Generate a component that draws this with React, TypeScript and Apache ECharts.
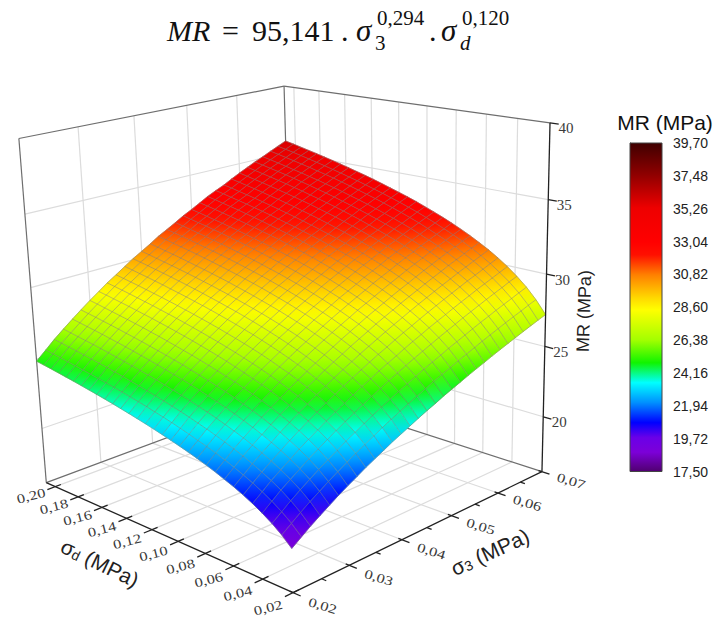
import React, { useEffect, useRef } from "react";
import * as echarts from "echarts";

// σd grid (rows), σ3 grid (columns) and the MR surface read at each node
const sigmaD = [0.0200,0.0263,0.0325,0.0388,0.0451,0.0513,0.0576,0.0639,0.0701,0.0764,0.0827,0.0889,0.0952,0.1015,0.1077,0.1140,0.1203,0.1265,0.1328,0.1391,0.1453,0.1516,0.1579,0.1641,0.1704,0.1767,0.1829,0.1892,0.1955,0.2017,0.2080];
const sigma3 = [0.0200,0.0217,0.0233,0.0250,0.0267,0.0283,0.0300,0.0317,0.0333,0.0350,0.0367,0.0383,0.0400,0.0417,0.0433,0.0450,0.0467,0.0483,0.0500,0.0517,0.0533,0.0550,0.0567,0.0583,0.0600,0.0617,0.0633,0.0650,0.0667,0.0683,0.0700];
const mrValues = [
[18.84,19.29,19.71,20.11,20.50,20.87,21.22,21.56,21.89,22.20,22.51,22.81,23.09,23.37,23.64,23.91,24.16,24.42,24.66,24.90,25.13,25.36,25.58,25.80,26.02,26.23,26.43,26.64,26.84,27.03,27.22],
[19.44,19.90,20.34,20.76,21.15,21.53,21.90,22.25,22.59,22.91,23.23,23.54,23.83,24.12,24.40,24.67,24.94,25.20,25.45,25.69,25.93,26.17,26.40,26.63,26.85,27.07,27.28,27.49,27.69,27.90,28.09],
[19.93,20.40,20.85,21.28,21.69,22.08,22.45,22.81,23.16,23.49,23.82,24.13,24.43,24.73,25.01,25.29,25.57,25.83,26.09,26.34,26.59,26.83,27.07,27.30,27.53,27.75,27.97,28.18,28.39,28.60,28.80],
[20.34,20.83,21.29,21.72,22.14,22.54,22.92,23.29,23.64,23.98,24.31,24.63,24.94,25.24,25.54,25.82,26.10,26.37,26.63,26.89,27.14,27.39,27.63,27.87,28.10,28.33,28.55,28.77,28.98,29.20,29.40],
[20.71,21.20,21.67,22.11,22.53,22.94,23.33,23.70,24.06,24.41,24.74,25.07,25.39,25.69,25.99,26.28,26.56,26.84,27.11,27.37,27.63,27.88,28.12,28.36,28.60,28.83,29.06,29.28,29.50,29.71,29.93],
[21.03,21.53,22.00,22.45,22.88,23.29,23.69,24.07,24.43,24.79,25.13,25.46,25.78,26.09,26.39,26.69,26.97,27.25,27.53,27.79,28.05,28.31,28.56,28.80,29.04,29.28,29.51,29.73,29.96,30.17,30.39],
[21.32,21.82,22.30,22.76,23.19,23.61,24.01,24.40,24.76,25.13,25.47,25.81,26.13,26.45,26.75,27.05,27.34,27.62,27.90,28.17,28.43,28.70,28.95,29.19,29.44,29.68,29.91,30.14,30.37,30.58,30.81],
[21.57,22.09,22.58,23.04,23.48,23.90,24.31,24.70,25.07,25.43,25.78,26.12,26.45,26.77,27.08,27.38,27.68,27.97,28.25,28.52,28.79,29.05,29.30,29.55,29.80,30.04,30.28,30.51,30.74,30.96,31.18],
[21.82,22.34,22.83,23.30,23.74,24.17,24.58,24.97,25.35,25.72,26.07,26.41,26.75,27.07,27.38,27.69,27.99,28.28,28.56,28.84,29.11,29.37,29.63,29.88,30.13,30.38,30.62,30.85,31.08,31.31,31.53],
[22.04,22.57,23.06,23.53,23.98,24.41,24.83,25.23,25.61,25.98,26.34,26.68,27.02,27.35,27.66,27.97,28.27,28.57,28.85,29.13,29.40,29.67,29.93,30.19,30.44,30.69,30.93,31.17,31.40,31.63,31.85],
[22.25,22.78,23.28,23.75,24.21,24.64,25.06,25.46,25.85,26.22,26.59,26.93,27.27,27.60,27.92,28.24,28.54,28.83,29.12,29.40,29.68,29.95,30.21,30.47,30.73,30.97,31.22,31.46,31.69,31.92,32.15],
[22.44,22.97,23.48,23.96,24.42,24.86,25.28,25.68,26.08,26.45,26.82,27.17,27.51,27.84,28.17,28.48,28.79,29.09,29.37,29.66,29.94,30.21,30.47,30.74,31.00,31.24,31.49,31.73,31.97,32.20,32.43],
[22.62,23.16,23.67,24.16,24.62,25.06,25.49,25.89,26.29,26.67,27.04,27.39,27.73,28.07,28.40,28.71,29.02,29.33,29.61,29.90,30.18,30.46,30.72,30.99,31.25,31.49,31.75,31.99,32.23,32.46,32.69],
[22.79,23.34,23.85,24.34,24.81,25.25,25.68,26.09,26.49,26.87,27.25,27.60,27.94,28.28,28.62,28.93,29.24,29.55,29.84,30.13,30.41,30.69,30.95,31.23,31.49,31.73,31.99,32.23,32.48,32.71,32.94],
[22.95,23.51,24.02,24.51,24.99,25.43,25.86,26.28,26.68,27.06,27.45,27.80,28.14,28.48,28.83,29.14,29.45,29.76,30.05,30.35,30.63,30.91,31.17,31.45,31.72,31.96,32.22,32.46,32.71,32.94,33.18],
[23.11,23.67,24.18,24.68,25.16,25.60,26.03,26.46,26.86,27.24,27.63,27.99,28.33,28.67,29.02,29.34,29.65,29.96,30.25,30.56,30.84,31.12,31.38,31.66,31.93,32.18,32.44,32.68,32.93,33.16,33.40],
[23.26,23.82,24.34,24.84,25.32,25.76,26.20,26.63,27.03,27.41,27.81,28.17,28.51,28.85,29.21,29.53,29.84,30.15,30.44,30.76,31.04,31.32,31.58,31.86,32.13,32.39,32.65,32.89,33.14,33.37,33.61],
[23.40,23.97,24.49,24.99,25.47,25.92,26.36,26.79,27.19,27.58,27.98,28.34,28.68,29.03,29.39,29.71,30.02,30.33,30.63,30.95,31.23,31.51,31.77,32.05,32.33,32.59,32.85,33.09,33.34,33.57,33.81],
[23.54,24.11,24.63,25.14,25.62,26.07,26.51,26.95,27.35,27.74,28.14,28.50,28.85,29.20,29.56,29.88,30.19,30.51,30.81,31.13,31.41,31.69,31.95,32.24,32.52,32.78,33.04,33.28,33.53,33.76,34.01],
[23.67,24.24,24.77,25.28,25.76,26.21,26.66,27.10,27.50,27.89,28.30,28.66,29.01,29.36,29.72,30.04,30.36,30.68,30.98,31.30,31.58,31.86,32.13,32.42,32.70,32.96,33.22,33.46,33.72,33.95,34.20],
[23.80,24.37,24.90,25.41,25.90,26.35,26.80,27.24,27.65,28.04,28.45,28.81,29.16,29.52,29.88,30.20,30.52,30.84,31.14,31.47,31.75,32.03,32.30,32.59,32.87,33.13,33.40,33.64,33.90,34.13,34.38],
[23.92,24.49,25.03,25.54,26.03,26.48,26.94,27.38,27.79,28.18,28.59,28.96,29.31,29.67,30.03,30.35,30.67,31.00,31.30,31.63,31.91,32.19,32.46,32.75,33.04,33.30,33.57,33.81,34.07,34.30,34.55],
[24.04,24.61,25.15,25.66,26.16,26.61,27.07,27.51,27.93,28.32,28.73,29.10,29.45,29.81,30.18,30.50,30.82,31.15,31.45,31.78,32.07,32.35,32.62,32.91,33.20,33.46,33.73,33.97,34.24,34.47,34.72],
[24.15,24.72,25.27,25.78,26.28,26.73,27.20,27.64,28.06,28.45,28.86,29.24,29.59,29.95,30.32,30.64,30.96,31.30,31.60,31.93,32.22,32.50,32.77,33.06,33.35,33.62,33.89,34.13,34.40,34.63,34.88],
[24.26,24.83,25.38,25.90,26.40,26.85,27.32,27.76,28.19,28.58,28.99,29.37,29.72,30.08,30.46,30.78,31.10,31.44,31.74,32.07,32.37,32.65,32.92,33.21,33.50,33.77,34.04,34.28,34.55,34.79,35.04],
[24.37,24.94,25.49,26.01,26.51,26.97,27.44,27.88,28.31,28.70,29.12,29.50,29.85,30.21,30.59,30.91,31.24,31.58,31.88,32.21,32.51,32.79,33.06,33.35,33.64,33.92,34.19,34.43,34.70,34.94,35.19],
[24.47,25.04,25.60,26.12,26.62,27.08,27.55,28.00,28.43,28.82,29.24,29.62,29.97,30.34,30.72,31.04,31.37,31.71,32.01,32.34,32.65,32.93,33.20,33.49,33.78,34.06,34.33,34.57,34.84,35.09,35.34],
[24.57,25.14,25.70,26.22,26.73,27.19,27.66,28.11,28.55,28.94,29.36,29.74,30.09,30.46,30.84,31.17,31.50,31.84,32.14,32.47,32.78,33.06,33.33,33.63,33.92,34.20,34.47,34.71,34.98,35.23,35.48],
[24.67,25.24,25.80,26.32,26.83,27.30,27.77,28.22,28.66,29.05,29.47,29.86,30.21,30.58,30.96,31.29,31.62,31.96,32.27,32.60,32.91,33.19,33.46,33.76,34.05,34.33,34.60,34.85,35.12,35.37,35.62],
[24.76,25.34,25.90,26.42,26.93,27.40,27.88,28.33,28.77,29.16,29.58,29.97,30.33,30.70,31.08,31.41,31.74,32.08,32.39,32.72,33.04,33.32,33.59,33.89,34.18,34.46,34.73,34.98,35.25,35.50,35.76],
[24.85,25.43,25.99,26.52,27.03,27.50,27.98,28.43,28.87,29.27,29.69,30.08,30.44,30.81,31.19,31.52,31.86,32.20,32.51,32.84,33.16,33.44,33.71,34.01,34.31,34.59,34.86,35.11,35.38,35.63,35.89],
];

const sigmaDTicks = [0.02,0.04,0.06,0.08,0.10,0.12,0.14,0.16,0.18,0.20];
const sigma3Ticks = [0.02,0.03,0.04,0.05,0.06,0.07];
const sigma3MinorTicks = [0.025,0.035,0.045,0.055,0.065];
const mrTicks = [20,25,30,35,40];
const colorbarTicks = [17.5,19.72,21.94,24.16,26.38,28.6,30.82,33.04,35.26,37.48,39.7];
const colorValues = [17.5,18.8,19.79,20.8,22.16,23.5,24.85,26.4,28.43,29.24,30.79,32.14,33.0,35.31,37.54,39.7];
const colorHexes = ["#500070","#7c00d8","#6a00e8","#0000ff","#0090ff","#00ffff","#10f400","#a4ff00","#ffff00","#ffd800","#ff8000","#ff1000","#ff0000","#ee0000","#900000","#400000"];

const D_MIN = 0.02, D_MAX = 0.208, S_MIN = 0.02, S_MAX = 0.07, Z_MIN = 16, Z_MAX = 40;
const uOf = (d: number) => (d - D_MIN) / (D_MAX - D_MIN);
const vOf = (s: number) => (s - S_MIN) / (S_MAX - S_MIN);
const wOf = (z: number) => (z - Z_MIN) / (Z_MAX - Z_MIN);

// camera calibration: box coordinates (u, v, w) against where they fall on the page
const CAMERA_ANCHORS: number[][] = [
  [0,0,0,293,593],[1,0,0,45,483],[0,1,0,542,471],[1,0,1,18,138],[0,1,1,550,123],[1,1,1,284,86],
  [0,1,1/6,543.2,417],[0,1,0.375,545,347],[0,1,0.5833,546.5,274],[0,1,0.7917,548,202],
  [1,0,1/6,43,428],[1,0,0.375,37,360],[1,0,0.5833,31,287],[1,0,0.7917,25,213],
  [0,0,0.1183,292,548],[1,1,0.8292,285,139],
  [1,0.2,1,78,127],[1,0.4,1,134,117],[1,0.6,1,187,106],[1,0.8,1,237,97],
  [0.1064,1,1,517,115.5],[0.4255,1,1,428,106],
];

function solveCamera(): number[] {
  const n = 11;
  const M = Array.from({ length: n }, () => new Array(n + 1).fill(0));
  const add = (row: number[], rhs: number) => {
    for (let a = 0; a < n; a++) {
      for (let b = 0; b < n; b++) M[a][b] += row[a] * row[b];
      M[a][n] += row[a] * rhs;
    }
  };
  CAMERA_ANCHORS.forEach(([u, v, w, X, Y]) => {
    add([1, u, v, w, 0, 0, 0, 0, -X * u, -X * v, -X * w], X);
    add([0, 0, 0, 0, 1, u, v, w, -Y * u, -Y * v, -Y * w], Y);
  });
  for (let c = 0; c < n; c++) {
    let p = c;
    for (let r = c + 1; r < n; r++) if (Math.abs(M[r][c]) > Math.abs(M[p][c])) p = r;
    [M[c], M[p]] = [M[p], M[c]];
    for (let r = 0; r < n; r++) {
      if (r === c) continue;
      const f = M[r][c] / M[c][c];
      for (let k = c; k <= n; k++) M[r][k] -= f * M[c][k];
    }
  }
  return M.map((r, i) => r[n] / r[i]);
}
const cam = solveCamera();
const project = (u: number, v: number, w: number): [number, number] => {
  const d = 1 + cam[8] * u + cam[9] * v + cam[10] * w;
  return [
    (cam[0] + cam[1] * u + cam[2] * v + cam[3] * w) / d,
    (cam[4] + cam[5] * u + cam[6] * v + cam[7] * w) / d,
  ];
};

const hexRgb = (h: string) => [1, 3, 5].map((i) => parseInt(h.slice(i, i + 2), 16));
function colorOf(z: number): string {
  if (z <= colorValues[0]) return colorHexes[0];
  for (let i = 1; i < colorValues.length; i++) {
    if (z <= colorValues[i]) {
      const t = (z - colorValues[i - 1]) / (colorValues[i] - colorValues[i - 1]);
      const a = hexRgb(colorHexes[i - 1]);
      const b = hexRgb(colorHexes[i]);
      return `rgb(${a.map((c, k) => Math.round(c + (b[k] - c) * t)).join(",")})`;
    }
  }
  return colorHexes[colorHexes.length - 1];
}

const comma = (v: number, digits = 2) => v.toFixed(digits).replace(".", ",");

type Seg = number[];
const gridSegs: Seg[] = [];
sigma3Ticks.slice(1, -1).forEach((s) => {
  const v = vOf(s);
  gridSegs.push([1, v, 0, 1, v, 1], [0, v, 0, 1, v, 0]);
});
sigmaDTicks.forEach((d) => {
  const u = uOf(d);
  if (d > 0.02) gridSegs.push([u, 1, 0, u, 1, 1], [u, 0, 0, u, 1, 0]);
});
mrTicks.slice(0, -1).forEach((z) => {
  const w = wOf(z);
  gridSegs.push([1, 0, w, 1, 1, w], [0, 1, w, 1, 1, w]);
});
const edgeSegs: Seg[] = [
  [1, 0, 1, 1, 1, 1], [1, 1, 1, 0, 1, 1], [1, 0, 0, 1, 0, 1], [1, 1, 0, 1, 1, 1],
  [1, 0, 0, 1, 1, 0], [1, 1, 0, 0, 1, 0],
];
const axisSegs: Seg[] = [[1, 0, 0, 0, 0, 0], [0, 0, 0, 0, 1, 0], [0, 1, 0, 0, 1, 1]];
sigmaDTicks.forEach((d) => axisSegs.push([uOf(d), 0.02, 0, uOf(d), -0.028, 0]));
sigma3Ticks.forEach((s) => axisSegs.push([0.012, vOf(s), 0, -0.026, vOf(s), 0]));
sigma3MinorTicks.forEach((s) => axisSegs.push([0, vOf(s), 0, -0.016, vOf(s), 0]));
mrTicks.forEach((z) => axisSegs.push([0, 1, wOf(z), -0.028, 1, wOf(z)]));

const quads: number[][] = [];
for (let i = 0; i < sigmaD.length - 1; i++)
  for (let j = 0; j < sigma3.length - 1; j++) quads.push([i, j]);
const nodePoint = (i: number, j: number) => project(uOf(sigmaD[i]), vOf(sigma3[j]), wOf(mrValues[i][j]));

const meshLines: number[][] = [
  ...sigmaD.map((_, i) => [0, i]),
  ...sigma3.map((_, j) => [1, j]),
];

const segRender = (segs: Seg[], stroke: string, lineWidth: number) => (params: any) => {
  const s = segs[params.dataIndex];
  const a = project(s[0], s[1], s[2]);
  const b = project(s[3], s[4], s[5]);
  return {
    type: "line",
    shape: { x1: a[0], y1: a[1], x2: b[0], y2: b[1] },
    style: { stroke, lineWidth, fill: "none" },
    silent: true,
  };
};
const segSeries = (segs: Seg[], stroke: string, lineWidth: number, z: number) => ({
  type: "custom",
  coordinateSystem: "none",
  silent: true,
  z,
  data: segs.map((_, i) => [i]),
  renderItem: segRender(segs, stroke, lineWidth),
});

type Lbl = { text: string; x: number; y: number; r: number };
const axisLabels: Lbl[] = [];
sigmaDTicks.forEach((d) => {
  const u = uOf(d);
  const p = project(u, -0.085, 0);
  axisLabels.push({ text: comma(d), x: p[0], y: p[1] + 3 * (1 - u), r: 0.25 });
});
sigma3Ticks.forEach((s) => {
  const p = project(-0.1, vOf(s), 0);
  axisLabels.push({ text: comma(s), x: p[0], y: p[1], r: -0.3 });
});
mrTicks.forEach((z) => {
  const p = project(0, 1, wOf(z));
  axisLabels.push({ text: String(z), x: p[0] + 16, y: p[1] + 5.5, r: 0 });
});

const SERIF = '"Liberation Serif", serif';
const SANS = '"Liberation Sans", sans-serif';
const formula: any[] = [
  { text: "MR", x: 167, y: 30, size: 30, italic: true },
  { text: "=", x: 222, y: 30, size: 30 },
  { text: "95,141", x: 252, y: 30, size: 30 },
  { text: ".", x: 341, y: 30, size: 30 },
  { text: "σ", x: 356, y: 30, size: 31, italic: true },
  { text: "3", x: 375, y: 43, size: 21 },
  { text: "0,294", x: 377, y: 18, size: 21 },
  { text: ".", x: 429, y: 30, size: 30 },
  { text: "σ", x: 441, y: 30, size: 31, italic: true },
  { text: "d", x: 460, y: 43, size: 21, italic: true },
  { text: "0,120", x: 462, y: 18, size: 21 },
];

function buildOption(): any {
  const stops = colorValues.map((v, i) => ({
    offset: (39.7 - v) / (39.7 - 17.5),
    color: colorHexes[i],
  })).reverse();
  return {
    animation: false,
    backgroundColor: "#fff",
    grid: { left: 630, top: 143, width: 32, height: 328.5 },
    xAxis: { type: "value", min: 0, max: 1, show: false },
    yAxis: {
      type: "value",
      position: "right",
      min: 17.5,
      max: 39.7,
      splitLine: { show: false },
      axisLine: { show: true, lineStyle: { color: "#333", width: 1 } },
      axisTick: { show: true, length: 8, customValues: colorbarTicks, lineStyle: { color: "#333" } },
      axisLabel: {
        customValues: colorbarTicks,
        margin: 11,
        fontSize: 14,
        fontFamily: SANS,
        color: "#222",
        formatter: (v: number) => comma(v),
      },
    },
    graphic: {
      elements: [
        ...formula.map((f) => ({
          type: "text",
          x: f.x,
          y: f.y,
          silent: true,
          style: {
            text: f.text,
            fontFamily: SERIF,
            fontSize: f.size,
            fontStyle: f.italic ? "italic" : "normal",
            fill: "#111",
            align: "left",
            verticalAlign: "middle",
          },
        })),
        {
          type: "text", x: 665, y: 122, silent: true,
          style: { text: "MR (MPa)", fontFamily: SANS, fontSize: 21, fill: "#111", align: "center", verticalAlign: "middle" },
        },
        {
          type: "text", x: 584, y: 311, rotation: Math.PI / 2 - 0.03, silent: true,
          style: { text: "MR (MPa)", fontFamily: SANS, fontSize: 18, fill: "#222", align: "center", verticalAlign: "middle" },
        },
        {
          type: "text", x: 100, y: 563, rotation: -0.45, silent: true,
          style: {
            text: "{a|σ}{b|d}{a| (MPa)}",
            align: "center",
            verticalAlign: "middle",
            rich: {
              a: { fontFamily: SANS, fontSize: 21, fill: "#222" },
              b: { fontFamily: SANS, fontSize: 14, fill: "#222", verticalAlign: "bottom" },
            },
          },
        },
        {
          type: "text", x: 490, y: 552, rotation: 0.43, silent: true,
          style: {
            text: "{a|σ}{b|3}{a| (MPa)}",
            align: "center",
            verticalAlign: "middle",
            rich: {
              a: { fontFamily: SANS, fontSize: 21, fill: "#222" },
              b: { fontFamily: SANS, fontSize: 14, fill: "#222", verticalAlign: "bottom" },
            },
          },
        },
      ],
    },
    series: [
      {
        type: "custom",
        coordinateSystem: "cartesian2d",
        silent: true,
        z: 2,
        data: [[0, 17.5, 1, 39.7]],
        renderItem: (_: any, api: any) => {
          const a = api.coord([api.value(0), api.value(3)]);
          const b = api.coord([api.value(2), api.value(1)]);
          return {
            type: "rect",
            shape: { x: a[0], y: a[1], width: b[0] - a[0], height: b[1] - a[1] },
            style: {
              fill: new echarts.graphic.LinearGradient(0, 0, 0, 1, stops),
              stroke: "#444",
              lineWidth: 1,
            },
          };
        },
      },
      segSeries(gridSegs, "#dcdcdc", 1.2, 1),
      segSeries(edgeSegs, "#6e6e6e", 1.2, 1),
      {
        type: "custom",
        coordinateSystem: "none",
        silent: true,
        z: 3,
        data: quads,
        renderItem: (params: any) => {
          const [i, j] = quads[params.dataIndex];
          const nodes: [number, number][] = [[i, j], [i + 1, j], [i + 1, j + 1], [i, j + 1]];
          const pts = nodes.map(([a, b]) => nodePoint(a, b));
          const vals = nodes.map(([a, b]) => mrValues[a][b]);
          let lo = 0, hi = 0;
          vals.forEach((v, k) => {
            if (v < vals[lo]) lo = k;
            if (v > vals[hi]) hi = k;
          });
          const midColor = colorOf((vals[lo] + vals[hi]) / 2);
          const fill = new echarts.graphic.LinearGradient(
            pts[lo][0], pts[lo][1], pts[hi][0], pts[hi][1],
            [
              { offset: 0, color: colorOf(vals[lo]) },
              { offset: 1, color: colorOf(vals[hi]) },
            ],
            true,
          );
          return {
            type: "polygon",
            shape: { points: pts },
            style: { fill, stroke: midColor, lineWidth: 0.6 },
            silent: true,
          };
        },
      },
      {
        type: "custom",
        coordinateSystem: "none",
        silent: true,
        z: 4,
        data: meshLines,
        renderItem: (params: any) => {
          const [kind, k] = meshLines[params.dataIndex];
          const pts = kind === 0
            ? sigma3.map((_, j) => nodePoint(k, j))
            : sigmaD.map((_, i) => nodePoint(i, k));
          return {
            type: "polyline",
            shape: { points: pts },
            style: { stroke: "rgba(125,125,125,0.55)", lineWidth: 0.9, fill: "none" },
            silent: true,
          };
        },
      },
      segSeries(axisSegs, "#222", 1.3, 5),
      {
        type: "custom",
        coordinateSystem: "none",
        silent: true,
        z: 6,
        data: axisLabels.map((_, i) => [i]),
        renderItem: (params: any) => {
          const l = axisLabels[params.dataIndex];
          const big = l.r === 0;
          return {
            type: "text",
            x: l.x,
            y: l.y,
            rotation: l.r,
            scaleX: big ? 1 : 1.28,
            silent: true,
            style: {
              text: l.text,
              fontFamily: SERIF,
              fontSize: big ? 15 : 13,
              fill: "#3a3a3a",
              align: "center",
              verticalAlign: "middle",
            },
          };
        },
      },
    ],
  };
}

export default function App() {
  const ref = useRef<HTMLDivElement>(null);
  useEffect(() => {
    document.body.style.margin = "0";
    const chart = echarts.init(ref.current!, undefined, { renderer: "svg" });
    chart.setOption(buildOption());
    return () => chart.dispose();
  }, []);
  return <div ref={ref} style={{ width: 715, height: 619 }} />;
}
